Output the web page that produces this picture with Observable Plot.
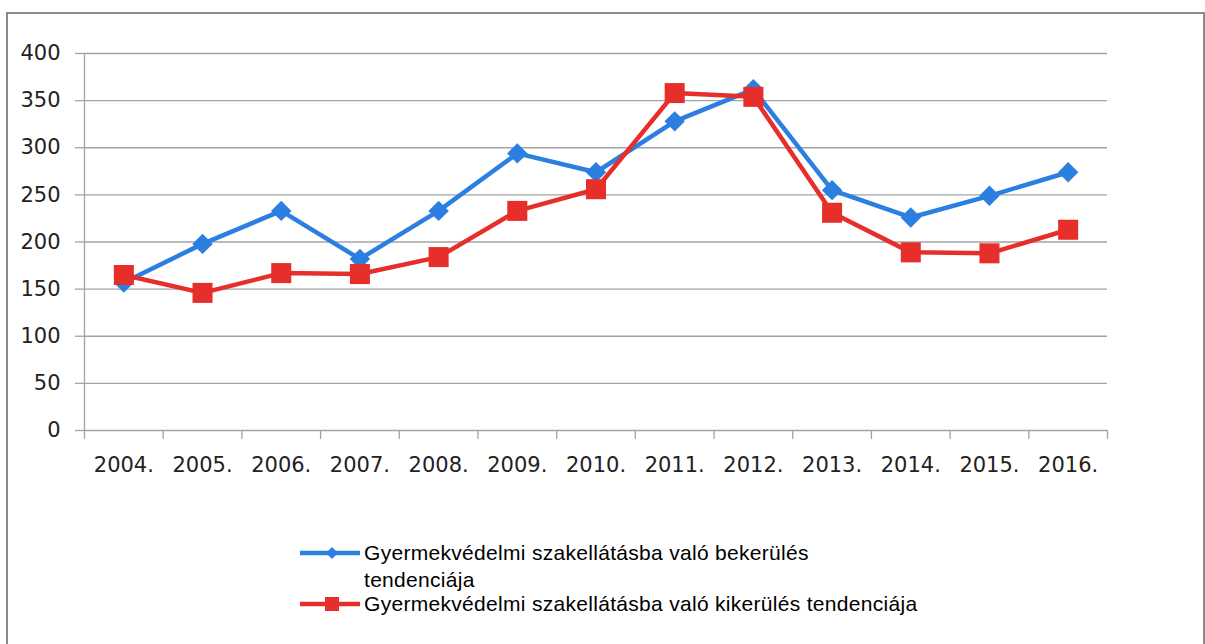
<!DOCTYPE html>
<html>
<head>
<meta charset="utf-8">
<script src="https://cdn.jsdelivr.net/npm/d3@7"></script>
<script src="https://cdn.jsdelivr.net/npm/@observablehq/plot@0.6"></script>
<style>
  html, body { margin: 0; padding: 0; background: #fff; }
  #frame { position: absolute; left: 6px; top: 12px; width: 1195px; height: 640px; border: 2px solid #8a8a8a; border-bottom: none; box-sizing: content-box; }
  #chart { position: absolute; left: 0; top: 0; }
  #legend { position: absolute; left: 300px; top: 539px; font-family: "Liberation Sans", Arial, sans-serif; font-size: 21px; letter-spacing: 0.3px; color: #000; }
  .item { position: absolute; left: 0; white-space: nowrap; }
  .item svg { position: absolute; left: 0; }
  .item span { position: absolute; left: 64px; line-height: 27px; }
</style>
</head>
<body>
<div id="frame"></div>
<div id="chart"></div>
<div id="legend"></div>
<script>
const years = [2004, 2005, 2006, 2007, 2008, 2009, 2010, 2011, 2012, 2013, 2014, 2015, 2016];
const bekerules = [157, 198, 233, 182, 233, 294, 274, 328, 362, 255, 226, 249, 274];
const kikerules = [165, 146, 167, 166, 184, 233, 256, 358, 354, 231, 189, 188, 213];
const yTicks = [0, 50, 100, 150, 200, 250, 300, 350, 400];
const seriesNames = [
  "Gyermekvédelmi szakellátásba való bekerülés tendenciája",
  "Gyermekvédelmi szakellátásba való kikerülés tendenciája"
];
const blue = "#2a7fe0";
const red = "#e62f2a";
const grid = "#a3a3a3";

const blueData = years.map((y, i) => ({year: y, value: bekerules[i]}));
const redData = years.map((y, i) => ({year: y, value: kikerules[i]}));
const boundaries = years.map(y => y - 0.5).concat([years[years.length - 1] + 0.5]);

const chart = Plot.plot({
  width: 1205,
  height: 480,
  marginLeft: 84,
  marginRight: 98,
  marginTop: 53,
  marginBottom: 50,
  style: {fontFamily: "DejaVu Sans, sans-serif", fontSize: "21px", color: "#222", background: "transparent"},
  x: {type: "linear", domain: [boundaries[0], boundaries[boundaries.length - 1]]},
  y: {domain: [0, 400]},
  marks: [
    Plot.gridY(yTicks, {stroke: grid, strokeOpacity: 1, strokeWidth: 1.3}),
    Plot.axisY({ticks: yTicks, tickSize: 9, tickPadding: 15, stroke: grid, strokeWidth: 1.3, label: null, fontSize: 21, fill: "#222"}),
    Plot.ruleX([boundaries[0]], {y1: 0, y2: 400, stroke: grid, strokeWidth: 1.3}),
    Plot.axisX({ticks: boundaries, tickSize: 9, tickFormat: () => "", stroke: grid, strokeWidth: 1.3, label: null}),
    Plot.axisX({ticks: years, tickSize: 0, tickPadding: 27, tickFormat: d => d + ".", label: null, fontSize: 21, fill: "#222"}),
    Plot.line(blueData, {x: "year", y: "value", stroke: blue, strokeWidth: 4.5}),
    Plot.dot(blueData, {x: "year", y: "value", symbol: "diamond2", r: 9.2, fill: blue, stroke: "none"}),
    Plot.line(redData, {x: "year", y: "value", stroke: red, strokeWidth: 4.5}),
    Plot.dot(redData, {x: "year", y: "value", symbol: "square", r: 11.3, fill: red, stroke: "none"})
  ]
});
document.getElementById("chart").appendChild(chart);

const legend = document.getElementById("legend");
legend.innerHTML = `
  <div class="item" style="top:0px">
    <svg width="62" height="30" style="top:0px"><line x1="0" x2="60" y1="14" y2="14" stroke="${blue}" stroke-width="4.5"/><path d="M32,8 L38,14 L32,20 L26,14 Z" fill="${blue}"/></svg>
    <span style="top:0px">Gyermekvédelmi szakellátásba való bekerülés<br>tendenciája</span>
  </div>
  <div class="item" style="top:51px">
    <svg width="62" height="30" style="top:0px"><line x1="0" x2="60" y1="14" y2="14" stroke="${red}" stroke-width="4.5"/><rect x="25" y="7" width="14" height="14" fill="${red}"/></svg>
    <span style="top:0px">${seriesNames[1]}</span>
  </div>`;
</script>
</body>
</html>
